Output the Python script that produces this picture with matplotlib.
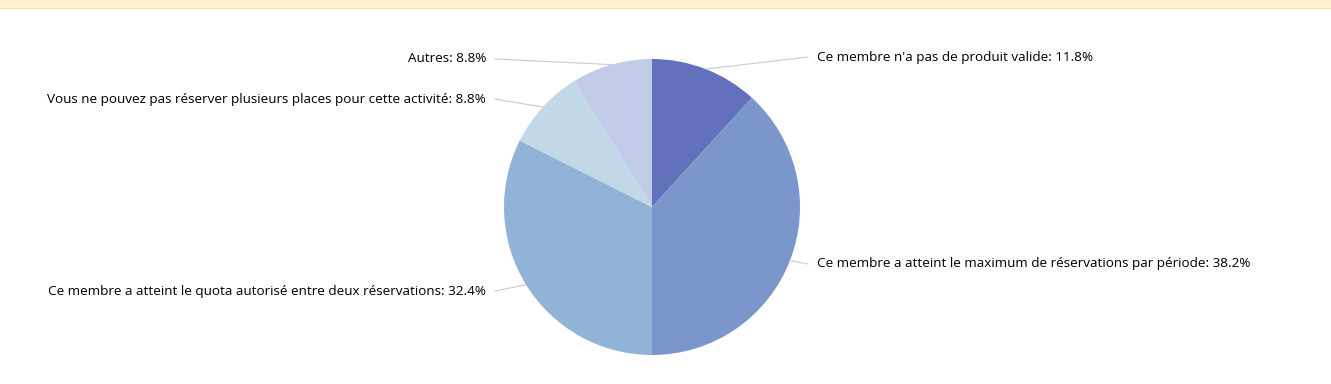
import numpy as np
import matplotlib.pyplot as plt
from matplotlib.patches import Rectangle

plt.rcParams["font.family"] = ["Open Sans", "DejaVu Sans"]

labels = [
    "Ce membre n'a pas de produit valide",
    "Ce membre a atteint le maximum de réservations par période",
    "Ce membre a atteint le quota autorisé entre deux réservations",
    "Vous ne pouvez pas réserver plusieurs places pour cette activité",
    "Autres",
]
shares = [11.8, 38.2, 32.4, 8.8, 8.8]
colors = ["#6371bd", "#7a96ca", "#91b3d5", "#c1d9e8", "#c2cce8"]

W, H = 1331, 384
fig = plt.figure(figsize=(W / 100, H / 100), dpi=100)
ax = fig.add_axes([0, 0, 1, 1])

# top banner
ax.add_patch(Rectangle((0, H - 7.5), W, 7.5, facecolor="#fff2cc", edgecolor="none"))
ax.plot([0, W], [H - 7.5, H - 7.5], color="#f3e2b0", lw=1)

cx, cy, r = 652, H - 207, 148
wedges, _ = ax.pie(shares, colors=colors, startangle=90, counterclock=False,
                   center=(cx, cy), radius=r, frame=True,
                   wedgeprops=dict(linewidth=0))
ax.set_xlim(0, W)
ax.set_ylim(0, H)
ax.set_aspect("equal")
ax.axis("off")

# label anchor positions (pixels from top) and side
anchors = [(808, 57, "left"), (808, 264, "left"), (495, 291, "right"),
           (495, 99, "right"), (495, 59, "right")]

for w, lab, val, (lx, ly, side) in zip(wedges, labels, shares, anchors):
    ang = np.deg2rad((w.theta1 + w.theta2) / 2)
    ex, ey = cx + r * np.cos(ang), cy + r * np.sin(ang)
    ax.plot([ex, lx], [ey, H - ly], color="#cccccc", lw=0.8)
    tx = lx + 9 if side == "left" else lx - 9
    ax.text(tx, H - ly, f"{lab}: {val}%", ha=side, va="center",
            fontsize=9.7, color="#000000")

fig.savefig("out.png", dpi=100)
